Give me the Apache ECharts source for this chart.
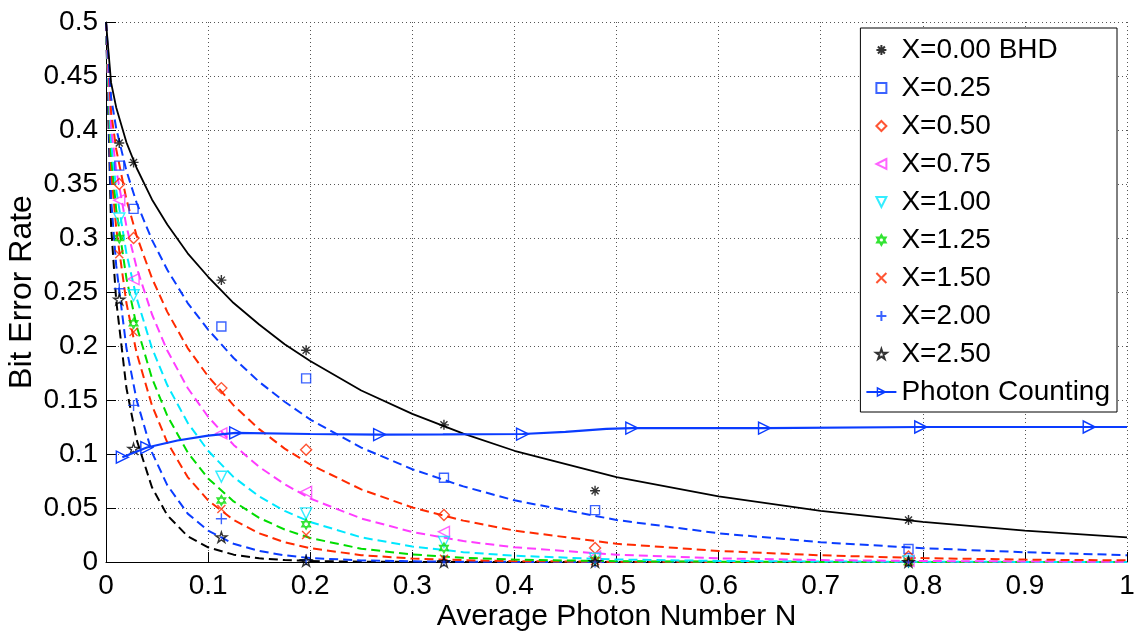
<!DOCTYPE html>
<html>
<head>
<meta charset="utf-8">
<title>BER vs average photon number</title>
<script src="https://cdn.jsdelivr.net/npm/echarts@6/dist/echarts.min.js"></script>
<style>
  html, body { margin: 0; padding: 0; background: #fff; }
  #chart { width: 1135px; height: 633px; }
</style>
</head>
<body>
<div id="chart"></div>
<script>
// grid of N values for the theory curves
let nGrid = [0, 0.005, 0.01, 0.02, 0.03, 0.045, 0.06, 0.08, 0.1, 0.125, 0.15, 0.175, 0.2, 0.25, 0.3, 0.35, 0.4, 0.5, 0.6, 0.7, 0.8, 0.9, 1.0]

let curveBHD = [0.5, 0.4438, 0.4209, 0.3886, 0.3648, 0.3357, 0.3125, 0.2858, 0.2641, 0.2398, 0.2199, 0.2016, 0.1861, 0.1588, 0.1371, 0.1188, 0.1030, 0.0786, 0.0607, 0.0473, 0.0371, 0.0291, 0.0228]
let curveX025 = [0.5, 0.4300, 0.4014, 0.3622, 0.3326, 0.2983, 0.2706, 0.2398, 0.2152, 0.1889, 0.1668, 0.1484, 0.1319, 0.1059, 0.0859, 0.0700, 0.0571, 0.0389, 0.0266, 0.0183, 0.0128, 0.0090, 0.0063]
let curveX050 = [0.5, 0.4162, 0.3822, 0.3357, 0.3021, 0.2628, 0.2316, 0.1981, 0.1719, 0.1450, 0.1230, 0.1050, 0.0903, 0.0672, 0.0505, 0.0383, 0.0291, 0.0169, 0.0102, 0.0062, 0.0036, 0.0022, 0.0015]
let curveX075 = [0.5, 0.4024, 0.3635, 0.3108, 0.2726, 0.2294, 0.1958, 0.1611, 0.1345, 0.1084, 0.0881, 0.0720, 0.0588, 0.0403, 0.0278, 0.0194, 0.0136, 0.0068, 0.0034, 0.0018, 0.0009, 0.0005, 0.0002]
let curveX100 = [0.5, 0.3886, 0.3448, 0.2858, 0.2444, 0.1981, 0.1638, 0.1289, 0.1030, 0.0786, 0.0607, 0.0473, 0.0371, 0.0228, 0.0144, 0.0091, 0.0058, 0.0023, 0.0010, 0.0005, 0.0002, 0.0001, 0]
let curveX125 = [0.5, 0.3754, 0.3266, 0.2628, 0.2185, 0.1703, 0.1355, 0.1015, 0.0774, 0.0561, 0.0409, 0.0301, 0.0222, 0.0123, 0.0070, 0.0039, 0.0022, 0.0007, 0.0003, 0.0001, 0, 0, 0]
let curveX150 = [0.5, 0.3622, 0.3090, 0.2398, 0.1935, 0.1450, 0.1108, 0.0786, 0.0571, 0.0389, 0.0266, 0.0183, 0.0128, 0.0063, 0.0032, 0.0017, 0.0008, 0.0002, 0.0001, 0, 0, 0, 0]
let curveX200 = [0.5, 0.3357, 0.2746, 0.1981, 0.1499, 0.1015, 0.0712, 0.0448, 0.0291, 0.0169, 0.0102, 0.0062, 0.0036, 0.0015, 0.0006, 0.0002, 0.0001, 0, 0, 0, 0, 0, 0]
let curveX250 = [0.5, 0.3108, 0.2421, 0.1611, 0.1132, 0.0692, 0.0433, 0.0238, 0.0136, 0.0068, 0.0034, 0.0018, 0.0009, 0.0003, 0.0001, 0, 0, 0, 0, 0, 0, 0, 0]

// simulated points
let simN = [0.013, 0.027, 0.113, 0.196, 0.331, 0.479, 0.786]
let simBHD = [0.388, 0.370, 0.261, 0.196, 0.127, 0.066, 0.039]
let simX025 = [0.367, 0.327, 0.218, 0.170, 0.078, 0.048, 0.012]
let simX050 = [0.350, 0.300, 0.161, 0.104, 0.0435, 0.013, 0.005]
let simX075 = [0.335, 0.262, 0.119, 0.065, 0.028, 0.005, 0.001]
let simX100 = [0.318, 0.247, 0.079, 0.045, 0.0185, 0.003, 0.0005]
let simX125 = [0.300, 0.221, 0.057, 0.035, 0.013, 0.002, 0]
let simX150 = [0.285, 0.213, 0.049, 0.025, 0.003, 0.001, 0]
let simX200 = [0.253, 0.145, 0.040, 0.002, 0.001, 0, 0]
let simX250 = [0.243, 0.105, 0.023, 0.001, 0, 0, 0]

// photon counting receiver
let pcN = [0.016, 0.04, 0.07, 0.1, 0.127, 0.2, 0.268, 0.33, 0.408, 0.45, 0.49, 0.515, 0.645, 0.798, 0.963, 1.0]
let pcBER = [0.097, 0.106, 0.1125, 0.117, 0.1195, 0.1185, 0.118, 0.1182, 0.1185, 0.1205, 0.1232, 0.124, 0.124, 0.125, 0.125, 0.125]
let pcMark = [1, 1, 0, 0, 1, 0, 1, 0, 1, 0, 0, 1, 1, 1, 1, 0]

let legendNames = ['X=0.00 BHD', 'X=0.25', 'X=0.50', 'X=0.75', 'X=1.00', 'X=1.25', 'X=1.50', 'X=2.00', 'X=2.50', 'Photon Counting']

const BLUE = '#0a3cff'
const RED = '#ff2a00'
const MAGENTA = '#ff3cff'
const CYAN = '#00e8ff'
const GREEN = '#00dd00'
const FONT = 'Liberation Sans, Arial, sans-serif'

let sym = {
  asterisk: 'path://M5,0L5,10M0,5L10,5M1.5,1.5L8.5,8.5M8.5,1.5L1.5,8.5',
  square: 'path://M0,0L10,0L10,10L0,10Z',
  diamond: 'path://M5,0L10,5L5,10L0,5Z',
  triLeft: 'path://M10,0L0,5L10,10Z',
  triDown: 'path://M0,0L10,0L5,10Z',
  hexagram: 'path://M5,0L9.33,7.5L0.67,7.5ZM5,10L0.67,2.5L9.33,2.5Z',
  cross: 'path://M0,0L10,10M10,0L0,10',
  plus: 'path://M5,0L5,10M0,5L10,5',
  star: 'path://M5,0L6.12,3.45L9.76,3.45L6.82,5.59L7.94,9.05L5,6.91L2.06,9.05L3.18,5.59L0.24,3.45L3.88,3.45Z',
  triRight: 'path://M0,0L10,5L0,10Z'
}

function pairs (xs, ys) {
  return xs.map((x, i) => [x, ys[i]])
}

function curve (name, ys, color, dashed) {
  return {
    name: name,
    type: 'line',
    data: pairs(nGrid, ys),
    smooth: false,
    showSymbol: false,
    silent: true,
    lineStyle: { color: color, width: dashed ? 2 : 1.8, type: dashed ? [9, 5] : 'solid' },
    z: 2
  }
}

function points (name, ys, color, symbol, size) {
  return {
    name: name,
    type: 'scatter',
    data: pairs(simN, ys),
    symbol: symbol,
    symbolSize: size || 10,
    symbolKeepAspect: true,
    itemStyle: { color: 'transparent', borderColor: color, borderWidth: 1.4 },
    z: 4
  }
}

let pcData = pcN.map((x, i) => {
  let item = { value: [x, pcBER[i]] }
  if (!pcMark[i]) item.symbol = 'none'
  return item
})

// legend entries; the photon counting icon keeps a hollow triangle
let legendData = legendNames.map(name => {
  if (name !== 'Photon Counting') return name
  return { name: name, itemStyle: { color: 'transparent', borderColor: BLUE, borderWidth: 1.4 } }
})

let myChart = echarts.init(document.getElementById('chart'), null, { renderer: 'canvas' })
let option = {
  animation: false,
  backgroundColor: '#fff',
  textStyle: { fontFamily: FONT },
  grid: { left: 106, right: 8, top: 22, bottom: 71, outerBoundsMode: 'none', containLabel: false },
  legend: {
    data: legendData,
    orient: 'vertical',
    right: 18,
    top: 28,
    padding: [8, 7, 6, 5],
    itemGap: 10,
    itemWidth: 30,
    itemHeight: 10,
    backgroundColor: '#fff',
    borderColor: '#000',
    borderWidth: 1,
    borderRadius: 0,
    textStyle: { fontSize: 28, color: '#000', fontFamily: FONT }
  },
  xAxis: {
    type: 'value',
    min: 0,
    max: 1,
    interval: 0.1,
    name: 'Average Photon Number N',
    nameLocation: 'middle',
    nameGap: 40,
    nameMoveOverlap: false,
    nameTextStyle: { fontSize: 30, color: '#000', fontFamily: FONT },
    axisLine: { show: true, onZero: false, lineStyle: { color: '#000', width: 1 } },
    axisTick: { show: true, inside: true, length: 10, lineStyle: { color: '#000' } },
    axisLabel: { fontSize: 28, color: '#000', margin: 10, fontFamily: FONT },
    splitLine: { show: true, lineStyle: { color: '#555', type: [1, 3], width: 1 } }
  },
  yAxis: {
    type: 'value',
    min: 0,
    max: 0.5,
    interval: 0.05,
    name: 'Bit Error Rate',
    nameLocation: 'middle',
    nameGap: 68,
    nameMoveOverlap: false,
    nameTextStyle: { fontSize: 32, color: '#000', fontFamily: FONT },
    axisLine: { show: true, onZero: false, lineStyle: { color: '#000', width: 1 } },
    axisTick: { show: true, inside: true, length: 10, lineStyle: { color: '#000' } },
    axisLabel: { fontSize: 28, color: '#000', margin: 8, fontFamily: FONT },
    splitLine: { show: true, lineStyle: { color: '#555', type: [1, 3], width: 1 } }
  },
  series: [
    curve('c250', curveX250, '#000', true),
    curve('c200', curveX200, BLUE, true),
    curve('c150', curveX150, RED, true),
    curve('c125', curveX125, GREEN, true),
    curve('c100', curveX100, CYAN, true),
    curve('c075', curveX075, MAGENTA, true),
    curve('c050', curveX050, RED, true),
    curve('c025', curveX025, BLUE, true),
    curve('cBHD', curveBHD, '#000', false),
    points('X=0.00 BHD', simBHD, '#000', sym.asterisk, 10),
    points('X=0.25', simX025, BLUE, sym.square, 9),
    points('X=0.50', simX050, RED, sym.diamond, 11),
    points('X=0.75', simX075, MAGENTA, sym.triLeft, 11),
    points('X=1.00', simX100, CYAN, sym.triDown, 11),
    points('X=1.25', simX125, GREEN, sym.hexagram, 10),
    points('X=1.50', simX150, RED, sym.cross, 8),
    points('X=2.00', simX200, BLUE, sym.plus, 11),
    points('X=2.50', simX250, '#000', sym.star, 11),
    {
      name: 'Photon Counting',
      type: 'line',
      data: pcData,
      smooth: false,
      symbol: sym.triRight,
      symbolSize: 12,
      symbolKeepAspect: true,
      showAllSymbol: true,
      lineStyle: { color: BLUE, width: 2.2 },
      itemStyle: { color: 'transparent', borderColor: BLUE, borderWidth: 1.4 },
      z: 5
    }
  ]
}
myChart.setOption(option)
</script>
</body>
</html>
